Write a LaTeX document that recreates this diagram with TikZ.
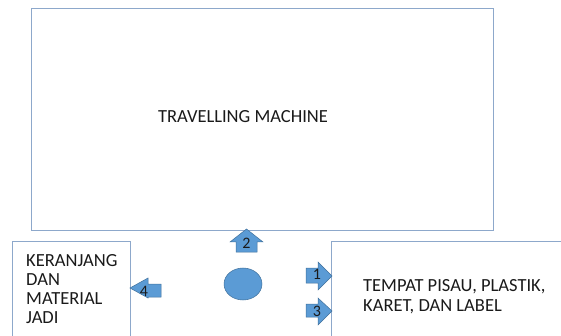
\documentclass[tikz,border=0pt]{standalone}
\usepackage{fontspec}
\setmainfont{Carlito}
\usetikzlibrary{shapes.geometric}
\definecolor{boxline}{HTML}{8DA8CB}
\definecolor{shapefill}{HTML}{5B9BD5}
\definecolor{shapeline}{HTML}{41719C}
\definecolor{txt}{HTML}{1A1A1A}
\tikzset{
  areabox/.style={draw=boxline, line width=0.9pt, fill=white},
  blockarrow/.style={fill=shapefill, draw=shapeline, line width=0.5pt},
  numlabel/.style={font=\fontsize{16}{18}\selectfont, text=txt, inner sep=0pt},
  boxtext/.style={font=\fontsize{18.5}{20}\selectfont, text=txt, inner sep=0pt, align=left}
}
\begin{document}
\begin{tikzpicture}[x=1pt,y=-1pt]
\useasboundingbox (0,0) rectangle (561,336);
\clip (0,0) rectangle (561,336);
% boxes
\draw[areabox] (31,8) rectangle (493,230);
\node[boxtext] (machine) at (243,117) {TRAVELLING MACHINE};
\draw[areabox] (12,241) rectangle (130,345);
\node[boxtext, anchor=west, font=\fontsize{18.5}{19.2}\selectfont] (basket) at (26,289) {KERANJANG\\DAN\\MATERIAL\\JADI};
\draw[areabox] (331,241) rectangle (570,345);
\node[boxtext, anchor=west, font=\fontsize{18.5}{20}\selectfont] (supply) at (363,297) {TEMPAT PISAU, PLASTIK,\\KARET, DAN LABEL};
% operator
\node[ellipse, fill=shapefill, draw=shapeline, line width=0.5pt, minimum width=38pt, minimum height=32pt, inner sep=0pt] (operator) at (243,284) {};
% arrow 2 (up)
\draw[blockarrow] (236,252) -- (236,242) -- (230,242) -- (246.5,229) -- (263,242) -- (257,242) -- (257,252) -- cycle;
\node[numlabel] (n2) at (246.5,243) {2};
% arrow 4 (left)
\draw[blockarrow] (161,284) -- (148,284) -- (148,278) -- (130,288) -- (148,298) -- (148,297) -- (161,297) -- cycle;
\node[numlabel] (n4) at (144,291) {4};
% arrow 1 (right)
\draw[blockarrow] (306,268) -- (318,268) -- (318,262) -- (332,276) -- (318,290) -- (318,283) -- (306,283) -- cycle;
\node[numlabel] (n1) at (317,274) {1};
% arrow 3 (right)
\draw[blockarrow] (306,304) -- (318,304) -- (318,298) -- (332,311) -- (318,325) -- (318,317) -- (306,317) -- cycle;
\node[numlabel] (n3) at (317,311) {3};
\end{tikzpicture}
\end{document}
